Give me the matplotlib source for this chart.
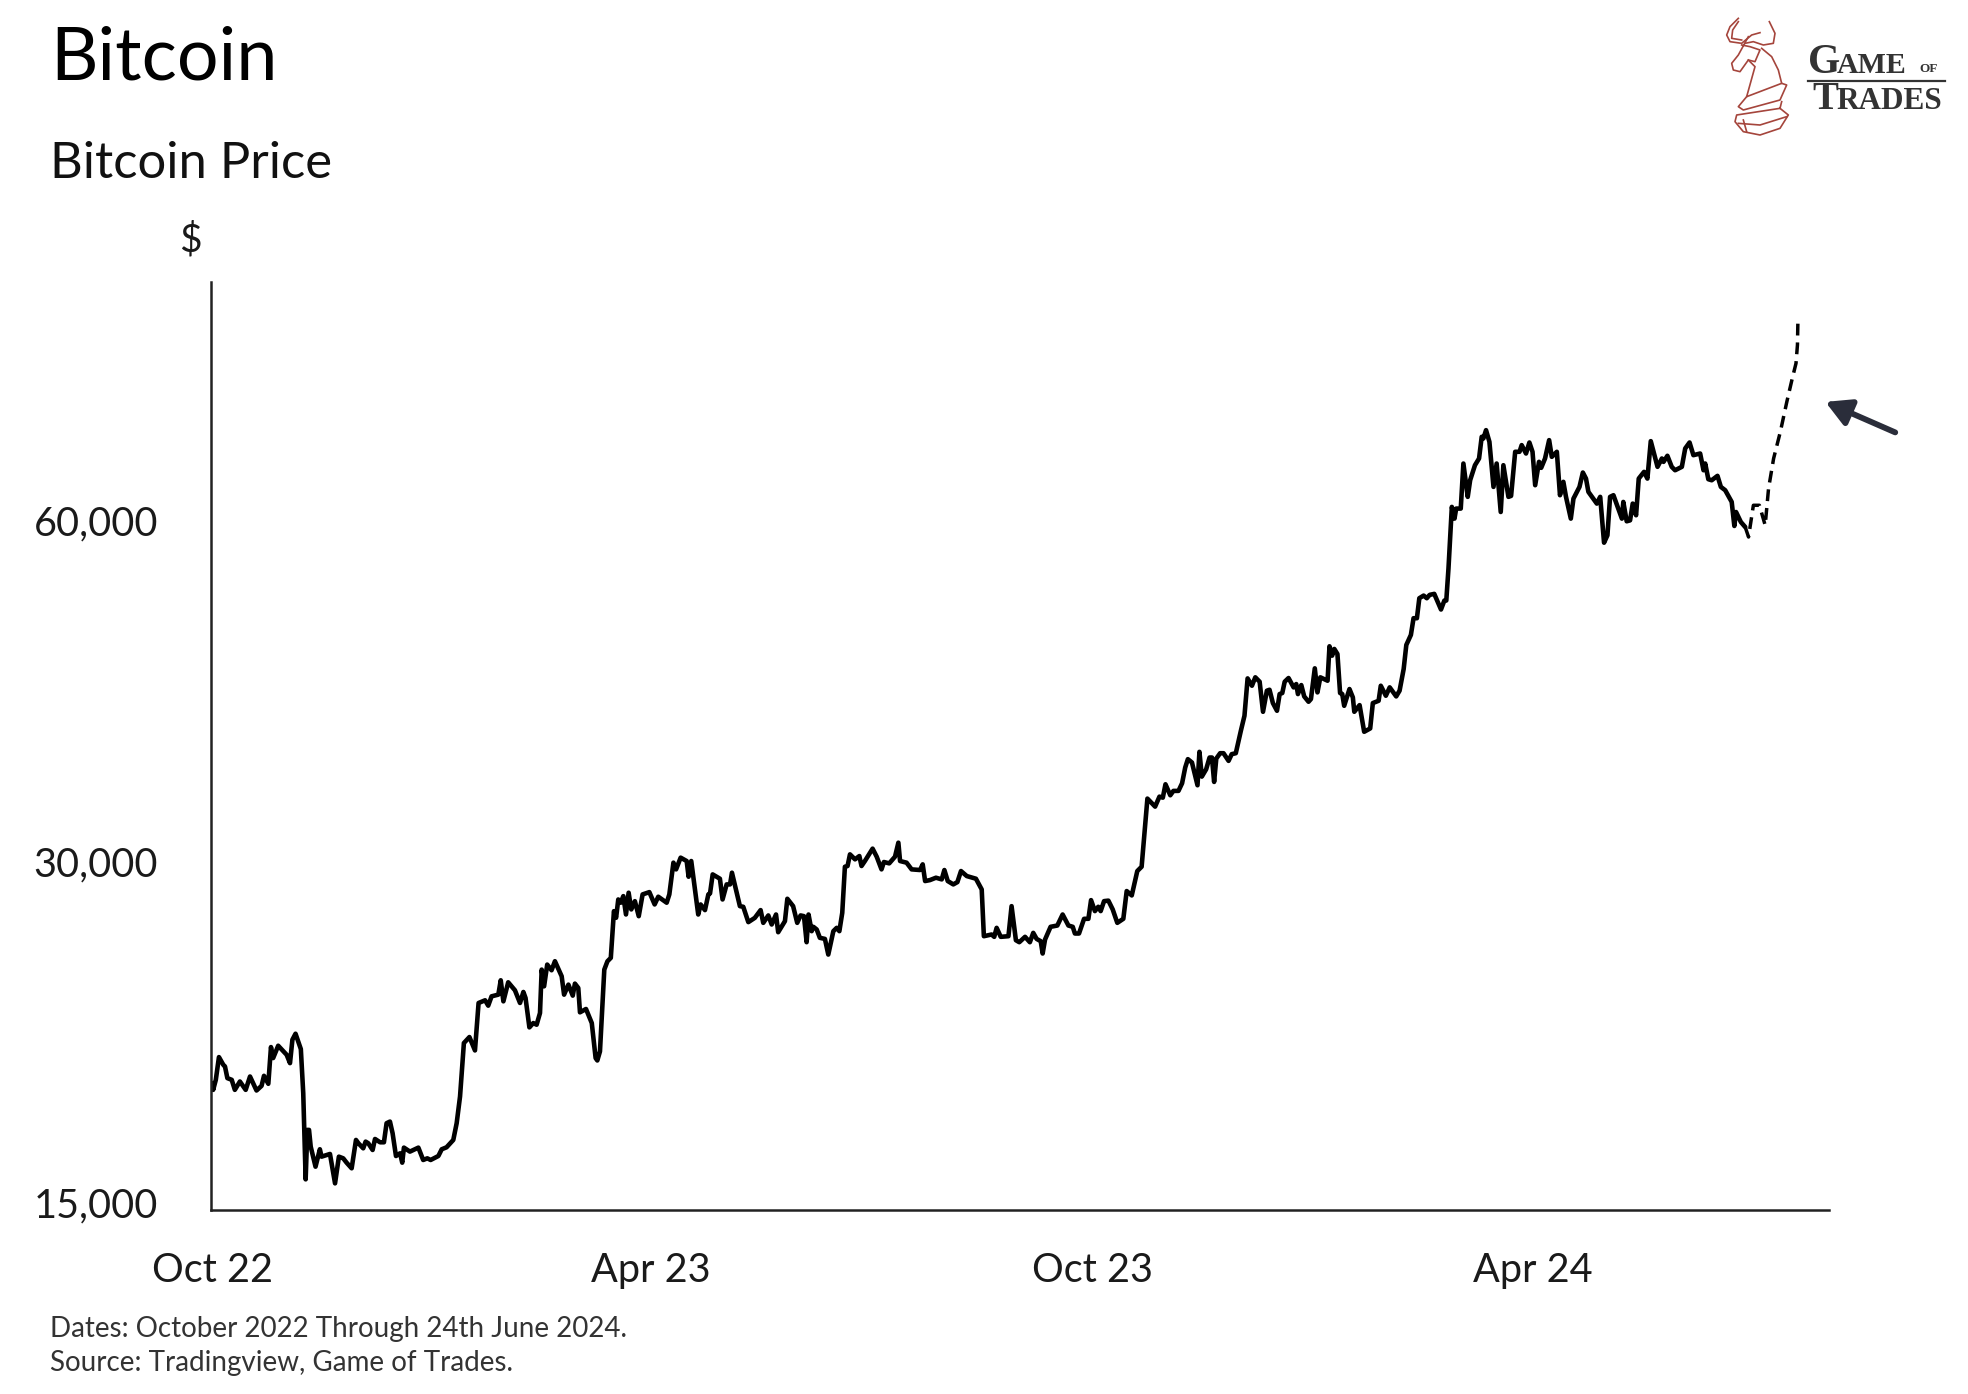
import matplotlib
matplotlib.use('Agg')
import matplotlib.pyplot as plt
import matplotlib.dates as mdates
import matplotlib.ticker as mticker
import pandas as pd

plt.rcParams['font.family'] = ['Lato', 'DejaVu Sans']

W, H = 1968, 1394

# Price data, days counted from 1 Oct 2022
start_date = pd.Timestamp('2022-10-01')

solid_days = [
    0, 0.1, 1.2, 2.5, 4.3, 5, 6, 7.8, 9.1, 11.2,
    13.6, 15.4, 18.1, 20.2, 21.2, 23, 24.1, 25, 27.1, 30.6,
    32, 33, 34.3, 36.5, 37.5, 38.5, 39.2, 39.9, 40.6, 42.6,
    44.4, 45.1, 48.6, 50.7, 52.3, 54.1, 55.5, 57.6, 59.4, 60.4,
    62.4, 63.4, 64.5, 66.3, 67.3, 69.4, 71, 72.1, 73.5, 74.6,
    76, 77.7, 78.6, 79.3, 81.8, 85.3, 87.3, 89, 90.4, 93.6,
    95, 97, 99.8, 101.2, 102.6, 104.2, 106.5, 108.8, 110.3, 113,
    114.3, 115.7, 118.5, 119.5, 120.6, 122.6, 125.4, 127.5, 128.9, 129.8,
    131.4, 133, 134.4, 135.8, 136.5, 137.5, 138.8, 140.6, 142, 144.8,
    145.8, 147.6, 149.4, 150.3, 151.7, 152.4, 154.9, 157.3, 158.9, 159.6,
    160.7, 162.5, 163.8, 165.2, 166.5, 167.4, 168.3, 169.3, 170.4, 171.5,
    172.6, 173.7, 175.2, 176.8, 178.4, 181.2, 183.4, 184.9, 188.4, 189.5,
    191.2, 192.3, 194.2, 196.7, 197.5, 198.6, 201.5, 202.5, 204.3, 205.7,
    206.4, 207.5, 210.5, 211.6, 213.3, 214.7, 215.5, 218.8, 220.2, 222.3,
    225, 227.4, 228.5, 230.6, 232, 233.8, 234.7, 237.5, 238.5, 240.9,
    242.6, 244, 245.4, 246.5, 247.3, 248.6, 249.3, 250.7, 252, 254.1,
    255.5, 257.6, 259, 260.1, 261.3, 262.4, 263.5, 264.5, 266.6, 268.4,
    269.3, 270.7, 273.9, 275.6, 277.6, 278.6, 280.8, 283.2, 284.6, 285.3,
    288, 290.1, 293.6, 294.7, 295.7, 297.7, 300.2, 302.6, 303.7, 305.1,
    307.4, 309.1, 310.6, 313, 316.8, 319.2, 320.1, 323.3, 324.4, 325.4,
    327.1, 330.3, 331.6, 333.4, 334.8, 337.2, 339.2, 340.6, 342, 343.7,
    344.5, 345.5, 347.8, 350.6, 352.8, 355.2, 357, 357.9, 359.6, 361.7,
    363.5, 364.6, 366.2, 367.6, 368.6, 370, 371.8, 373.6, 375.5, 378,
    379.4, 381.5, 383.8, 385.6, 388, 391.2, 393, 394.4, 395.5, 397.5,
    398.8, 400.9, 402.4, 403.7, 404.8, 406.5, 408.8, 409.6, 410.6, 412.4,
    413.8, 414.8, 415.7, 416.6, 418.2, 419.6, 421.7, 423, 424.7, 426.8,
    428.3, 429.6, 431.4, 432.8, 434.6, 436, 437.6, 438.7, 440.1, 441.8,
    442.9, 444, 445, 446.6, 448.7, 449.8, 450.5, 451.9, 453.1, 454.9,
    455.9, 457.5, 458.6, 459.8, 462.8, 463.6, 464.7, 465.6, 466.9, 468,
    468.9, 469.7, 471.9, 473.3, 473.9, 476.1, 478, 480.5, 481.6, 484,
    484.9, 487, 488.6, 491.3, 492.7, 494.4, 495.5, 497.4, 498.5, 499.9,
    500.9, 502.7, 504, 505.2, 507.1, 509.9, 511.3, 512.1, 513, 514.4,
    515.5, 516.2, 518.1, 519.2, 521, 522, 524, 525.7, 526.8, 527.5,
    528.6, 530, 531.7, 533, 534.7, 535.8, 537.9, 539, 540.7, 542.5,
    543.4, 545.2, 546.6, 547.9, 549, 550.6, 551.5, 553.1, 554.8, 555.9,
    558, 559.3, 560.7, 561.8, 563.8, 564.9, 567.4, 568.8, 570.1, 571.1,
    574.6, 576, 577.6, 579, 580.1, 581.5, 585, 585.6, 587, 588.4,
    589.5, 590.9, 592, 594.2, 595.6, 597, 599.8, 601.6, 602.3, 603.9,
    605.7, 607.1, 609.9, 611.3, 613.1, 614.7, 617.5, 618.9, 619.6, 620.9,
    622.3, 624.7, 626.1, 627.9, 630.6, 631.7, 632.4, 634.4, 636.2,
]
solid_prices = [
    19105, 18847, 19236, 20146, 19833, 19766, 19301, 19236, 18847, 19170,
    18847, 19366, 18822, 19002, 19393, 19080, 20560, 20105, 20617, 20242,
    19900, 20871, 21127, 20477, 18720, 15709, 17372, 17372, 16791, 16120,
    16701, 16452, 16542, 15582, 16452, 16396, 16252, 16067, 17021, 16906,
    16734, 16963, 16906, 16677, 17055, 16940, 16940, 17610, 17669, 17254,
    16474, 16565, 16252, 16757, 16622, 16757, 16341, 16396, 16341, 16474,
    16701, 16768, 17021, 17610, 18593, 20730, 20984, 20421, 22490, 22614,
    22368, 22797, 22875, 23553, 22566, 23457, 23078, 22490, 23000, 22720,
    21401, 21590, 21517, 22036, 24071, 23266, 24318, 24039, 24485, 23746,
    22875, 23346, 22830, 23394, 23187, 22067, 22217, 21590, 20105, 20008,
    20380, 24071, 24480, 24653, 27110, 26748, 27763, 27579, 27951, 26928,
    28146, 27204, 27667, 26834, 28049, 28180, 27483, 27918, 27579, 28049,
    29921, 29514, 30227, 30020, 29077, 30020, 26926, 27481, 27168, 28047,
    28106, 29214, 28959, 27763, 28626, 28626, 29316, 27387, 27351, 26511,
    26743, 27168, 26472, 26874, 26384, 26926, 25972, 26564, 27802, 27387,
    26472, 26874, 26835, 25450, 26926, 26028, 26260, 26116, 25678, 25622,
    24819, 26028, 26205, 26028, 27018, 29675, 29718, 30430, 30124, 30325,
    29718, 30020, 30786, 30286, 29515, 29960, 29878, 30286, 31162, 30020,
    29920, 29515, 29476, 29819, 28822, 28878, 29018, 28920, 29476, 28822,
    28626, 28760, 29414, 29116, 28959, 28335, 25763, 25852, 25730, 26205,
    25730, 25763, 27387, 25553, 25450, 25730, 25450, 25939, 25622, 25503,
    24871, 25590, 26260, 26329, 26926, 26329, 26260, 25904, 25904, 26691,
    26691, 27724, 27113, 27351, 27113, 27669, 27696, 27204, 26472, 26691,
    28241, 27992, 29414, 29675, 34086, 33535, 34222, 34151, 35095, 34318,
    34624, 34624, 35167, 36311, 36933, 36683, 35023, 37489, 35645, 36183,
    37056, 37056, 35262, 36978, 37383, 37383, 36806, 37311, 37383, 39126,
    40342, 43529, 42885, 43624, 43235, 40670, 42452, 42535, 41397, 40753,
    42163, 42252, 43235, 43563, 42741, 43030, 42163, 42941, 41964, 41508,
    41736, 44429, 42308, 43624, 43324, 46467, 45589, 46216, 45745, 42252,
    42163, 41170, 42597, 41880, 40670, 41225, 39048, 39315, 41397, 41592,
    42885, 42019, 42741, 41964, 42452, 44368, 46594, 47554, 49198, 49198,
    51241, 51518, 51241, 51591, 51696, 50076, 51003, 51003, 54415, 61703,
    60249, 61491, 61491, 67394, 62974, 65140, 67163, 68087, 71159, 70918,
    72131, 70437, 64264, 67394, 61067, 67163, 62974, 63099, 69021, 69021,
    69965, 68780, 70341, 69021, 64486, 67625, 66807, 68087, 70678, 68318,
    69021, 63186, 64929, 62974, 60249, 62753, 64264, 66171, 65362, 63619,
    62118, 62974, 57370, 58237, 62974, 63186, 60249, 62329, 59922, 60036,
    62118, 60663, 65362, 66258, 65362, 70534, 66942, 68087, 67625, 68463,
    66942, 66479, 66942, 69494, 70341, 68550, 68780, 66479, 67394, 65275,
    65140, 65727, 64264, 63831, 62329, 59354, 61067, 59835, 59229,
]

# Projected path after the last close
dashed_days = [636.2, 637.6, 639.6, 642.1, 644.5, 645.9, 648, 650.8,
               653.5, 655.6, 657.3, 657.9, 658.1]
dashed_prices = [59229, 58034, 61905, 61905, 59440, 64053, 68087, 71891,
                 76427, 79883, 82637, 85786, 90272]

y_ticks = [15000, 30000, 60000]
y_tick_labels = ['15,000', '30,000', '60,000']
x_ticks = ['2022-10-01', '2023-04-01', '2023-10-01', '2024-04-01']

# Arrow next to the projected move
arrow_tip = (669.5, 76400)
arrow_tail = (698.5, 71800)


def to_dates(days):
    return start_date + pd.to_timedelta(days, unit='D')


def px(x, y):
    return x / W, 1 - y / H


fig = plt.figure(figsize=(W / 100, H / 100), dpi=100, facecolor='white')
ax = fig.add_axes([211 / W, 1 - 1210 / H, (1829 - 211) / W, (1210 - 282) / H])

ax.plot(to_dates(solid_days), solid_prices, color='black', lw=3.3,
        solid_joinstyle='round', solid_capstyle='round')
ax.plot(to_dates(dashed_days), dashed_prices, color='black', lw=2.5,
        linestyle=(0, (3.4, 2.0)))

ax.set_yscale('log')
ax.set_ylim(14760, 97500)
ax.set_xlim(to_dates([-0.8])[0], to_dates([671])[0])
ax.yaxis.set_major_locator(mticker.FixedLocator(y_ticks))
ax.yaxis.set_major_formatter(mticker.FixedFormatter(y_tick_labels))
ax.yaxis.set_minor_locator(mticker.NullLocator())
ax.xaxis.set_major_locator(mticker.FixedLocator(mdates.date2num(pd.to_datetime(x_ticks))))
ax.xaxis.set_major_formatter(mdates.DateFormatter('%b %y'))

ax.tick_params(axis='y', length=0, pad=38, labelsize=28.5, labelcolor='#1a1a1a')
ax.tick_params(axis='x', length=0, pad=30.5, labelsize=28.5, labelcolor='#1a1a1a')
for side in ['top', 'right']:
    ax.spines[side].set_visible(False)
for side in ['left', 'bottom']:
    ax.spines[side].set_linewidth(1.8)
    ax.spines[side].set_color('#222222')

ax.annotate('', xy=(to_dates([arrow_tip[0]])[0], arrow_tip[1]),
            xytext=(to_dates([arrow_tail[0]])[0], arrow_tail[1]),
            annotation_clip=False,
            arrowprops=dict(arrowstyle='-|>,head_length=1.0,head_width=0.55',
                            color='#2a2d3a', lw=4.2, mutation_scale=15,
                            shrinkA=0, shrinkB=0))

# Titles and notes
fig.text(*px(50, 80), 'Bitcoin', fontsize=53, color='black', va='baseline')
fig.text(*px(50, 178), 'Bitcoin Price', fontsize=36.5, color='#111111', va='baseline')
fig.text(*px(190, 240), '$', fontsize=28, color='#1a1a1a', ha='center', va='center')
fig.text(*px(50, 1329), 'Dates: October 2022 Through 24th June 2024.', fontsize=20,
         color='#333333', va='center')
fig.text(*px(50, 1363), 'Source: Tradingview, Game of Trades.', fontsize=20,
         color='#333333', va='center')

# Logo, sketched over the top right corner
logo = fig.add_axes([1680 / W, 1 - 160 / H, 288 / W, 160 / H])
logo.set_xlim(0, 864)
logo.set_ylim(480, 0)
logo.axis('off')
logo_lines = [
    [(175, 55), (150, 80), (140, 105), (150, 125), (185, 130), (215, 105), (240, 98)],
    [(175, 65), (158, 90), (155, 115), (185, 120)],
    [(268, 65), (285, 100), (280, 130), (250, 135), (220, 125), (195, 130)],
    [(205, 110), (175, 165), (155, 190), (160, 210), (180, 215), (205, 180), (225, 185),
     (240, 150), (210, 140), (185, 135)],
    [(245, 145), (275, 170), (295, 210), (305, 250), (200, 290), (225, 200), (205, 180)],
    [(305, 250), (320, 255), (300, 300), (190, 330), (175, 320), (200, 290)],
    [(305, 305), (300, 325), (170, 345), (165, 365), (190, 395), (240, 405), (300, 385),
     (325, 345), (300, 325)],
    [(175, 370), (240, 375), (320, 350)],
    [(190, 360), (200, 395)],
]
for pts in logo_lines:
    logo.plot([p[0] for p in pts], [p[1] for p in pts], color='#a5453c', lw=1.2)
logo.plot([385, 795], [243, 243], color='#333333', lw=1.6)
serif = 'Liberation Serif'
logo.text(383, 220, 'G', family=serif, fontsize=30, fontweight='bold', color='#333333')
logo.text(470, 218, 'AME', family=serif, fontsize=21.5, fontweight='bold', color='#333333')
logo.text(718, 216, 'OF', family=serif, fontsize=9.5, fontweight='bold', color='#333333')
logo.text(398, 328, 'T', family=serif, fontsize=28, fontweight='bold', color='#333333')
logo.text(470, 326, 'RADES', family=serif, fontsize=22.5, fontweight='bold', color='#333333')

fig.savefig('out.png', dpi=100, facecolor='white')
